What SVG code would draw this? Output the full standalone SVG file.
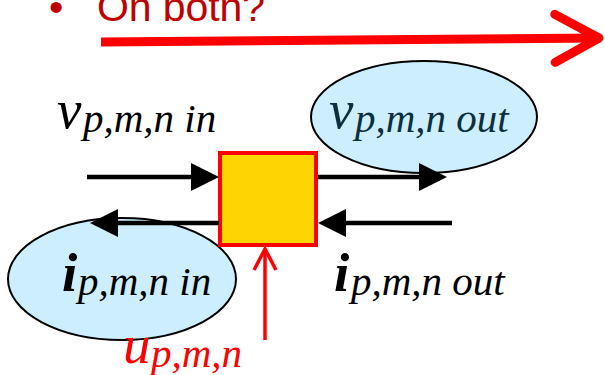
<svg xmlns="http://www.w3.org/2000/svg" width="605" height="375" viewBox="0 0 605 375">
<style>
.ell{fill:#CCEEFF;stroke:#000;stroke-width:2}
.main{font-family:"Liberation Serif","Times New Roman",serif;font-style:italic;font-size:55px}
.sub{font-size:41px}
.bi{font-weight:bold}
.blk{stroke:#000;stroke-width:4.5;fill:none}
.red{stroke:#FF0000;fill:none}
.ttl{font-family:"Liberation Sans",Arial,sans-serif;font-size:41px;fill:#C00000}
</style>
<defs>
<marker id="tri" markerUnits="userSpaceOnUse" markerWidth="30" markerHeight="30" refX="18" refY="14" orient="auto" overflow="visible">
<path d="M0,0 L28,14 L0,28 z" fill="#000"/>
</marker>
<marker id="chev" markerUnits="userSpaceOnUse" markerWidth="24" markerHeight="26" refX="21" refY="12" orient="auto" overflow="visible">
<path d="M0,1 L21,12 L0,23" fill="none" stroke="#FF0000" stroke-width="3.5"/>
</marker>
<marker id="bigchev" markerUnits="userSpaceOnUse" markerWidth="48" markerHeight="50" refX="44" refY="24" orient="auto" overflow="visible">
<path d="M0,0 L44,24 L0,48" fill="none" stroke="#FF0000" stroke-width="9" stroke-linecap="round" stroke-linejoin="round"/>
</marker>
</defs>
<rect width="605" height="375" fill="#fff"/>
<g id="title">
<text class="ttl" x="49" y="21">•</text>
<text class="ttl" x="97" y="21" textLength="168" lengthAdjust="spacing">On both?</text>
</g>
<g id="v_out_node">
<ellipse class="ell" cx="424" cy="117" rx="113" ry="56"/>
<text class="main" fill="#0B2F3F"><tspan x="329" y="128">v</tspan><tspan class="sub" x="355" y="132">p,m,n out</tspan></text>
</g>
<g id="i_in_node">
<ellipse class="ell" cx="122" cy="279" rx="114" ry="61"/>
<text class="main" fill="#000"><tspan class="bi" x="62" y="291">i</tspan><tspan class="sub" x="78" y="295">p,m,n in</tspan></text>
</g>
<g id="v_in_label">
<text class="main" fill="#000"><tspan x="57" y="128">v</tspan><tspan class="sub" x="83" y="132">p,m,n in</tspan></text>
</g>
<g id="i_out_label">
<text class="main" fill="#000"><tspan class="bi" x="334" y="291">i</tspan><tspan class="sub" x="351" y="295">p,m,n out</tspan></text>
</g>
<g id="u_label">
<text class="main" fill="#FF0000"><tspan x="123" y="363">u</tspan><tspan class="sub" x="151" y="367">p,m,n</tspan></text>
</g>
<g id="block">
<rect x="220" y="153" width="96" height="92" fill="#FFD500" stroke="#FF0000" stroke-width="4"/>
</g>
<g id="connectors">
<line class="blk" x1="87" y1="177" x2="209" y2="177" marker-end="url(#tri)"/>
<line class="blk" x1="318" y1="177" x2="437" y2="177" marker-end="url(#tri)"/>
<line class="blk" x1="452" y1="223" x2="328" y2="223" marker-end="url(#tri)"/>
<line class="blk" x1="219" y1="223" x2="100" y2="223" marker-end="url(#tri)"/>
<line class="red" stroke-width="3.5" x1="265" y1="340" x2="265" y2="249" marker-end="url(#chev)"/>
<line class="red" stroke-width="9" x1="101" y1="42" x2="599" y2="38" marker-end="url(#bigchev)"/>
</g>
</svg>
